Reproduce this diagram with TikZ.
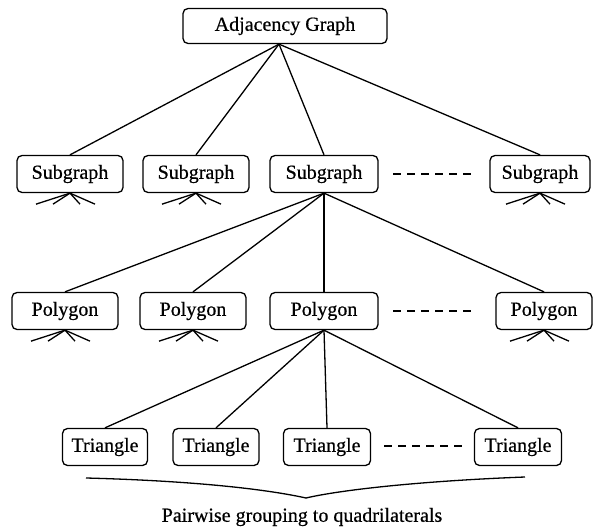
\documentclass[tikz,border=0pt]{standalone}
\usepackage{fontspec}
\setmainfont{Liberation Serif}
\newfontfamily\tms[FakeBold=0.6]{Liberation Serif}
\begin{document}
\begin{tikzpicture}[x=1pt,y=-1pt,
  box/.style={draw,rounded corners=5pt,line width=1.3pt,minimum height=37pt,inner sep=0pt,font=\tms\fontsize{20}{24}\selectfont},
  link/.style={line width=1.3pt},
  dashline/.style={line width=1.3pt,dash pattern=on 8pt off 6pt},
  lbl/.style={font=\tms\fontsize{20}{24}\selectfont,inner sep=0pt}]
\useasboundingbox (0,0) rectangle (597,532);
% top
\node[box,minimum width=204pt,minimum height=35pt] (A) at (285,26) {Adjacency Graph};
% subgraph row
\node[box,minimum width=106pt] (S1) at (70,174) {Subgraph};
\node[box,minimum width=106pt] (S2) at (196,174) {Subgraph};
\node[box,minimum width=108pt] (S3) at (324,174) {Subgraph};
\node[box,minimum width=100pt] (S4) at (540,174) {Subgraph};
% polygon row
\node[box,minimum width=106pt] (P1) at (65,311) {Polygon};
\node[box,minimum width=106pt] (P2) at (193,311) {Polygon};
\node[box,minimum width=108pt] (P3) at (324,311) {Polygon};
\node[box,minimum width=96pt] (P4) at (544,311) {Polygon};
% triangle row
\node[box,minimum width=85pt] (T1) at (105,447) {Triangle};
\node[box,minimum width=86pt] (T2) at (216,447) {Triangle};
\node[box,minimum width=87pt] (T3) at (327,447) {Triangle};
\node[box,minimum width=87pt] (T4) at (518,447) {Triangle};
% caption
\node[lbl] (cap) at (302,517) {Pairwise grouping to quadrilaterals};
% connectors
\coordinate (Ab) at ([xshift=-6pt]A.south);
\foreach \n in {S1,S2,S3,S4} \draw[link] (Ab) -- (\n.north);
\foreach \n in {P1,P2,P3,P4} \draw[link] (S3.south) -- (\n.north);
\foreach \n in {T1,T2,T3,T4} \draw[link] (P3.south) -- (\n.north);
% fans
\foreach \n in {S1,S2,S4,P1,P2,P4}
  \foreach \dx in {-34,-17,10,25}
    \draw[link] (\n.south) -- ++(\dx,11);
% dashed gaps
\coordinate (sd1) at (393,174); \coordinate (sd2) at (472,174);
\draw[dashline] (sd1) -- (sd2);
\coordinate (pd1) at (393,311); \coordinate (pd2) at (472,311);
\draw[dashline] (pd1) -- (pd2);
\coordinate (td1) at (384,446); \coordinate (td2) at (463,446);
\draw[dashline] (td1) -- (td2);
% brace
\coordinate (b1) at (86,478); \coordinate (b2) at (306,498); \coordinate (b3) at (525,477);
\draw[link] (b1) .. controls (200,481) and (270,490) .. (b2) .. controls (340,490) and (420,481) .. (b3);
\end{tikzpicture}
\end{document}
